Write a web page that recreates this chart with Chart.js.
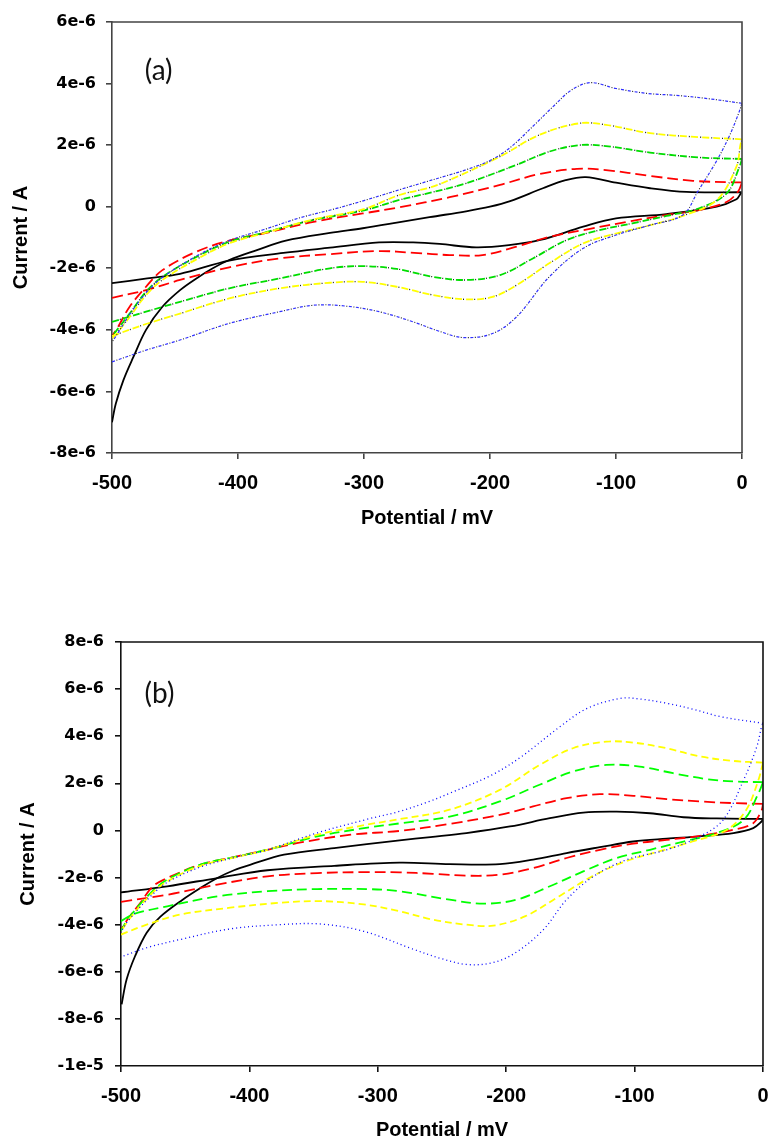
<!DOCTYPE html>
<html><head><meta charset="utf-8">
<script src="https://cdn.jsdelivr.net/npm/chart.js@4.4.1/dist/chart.umd.min.js"></script>
<style>
html,body{margin:0;padding:0;background:#fff;}
#wrap{position:relative;width:768px;height:1142px;overflow:hidden;background:#fff;}
canvas{position:absolute;left:0;}
#ca{top:0;width:768px;height:560px;}
#cb{top:560px;width:768px;height:582px;}
</style></head><body>
<div id="wrap"><canvas id="ca" width="768" height="560"></canvas><canvas id="cb" width="768" height="582"></canvas></div>
<script>
// ---------- axis ticks ----------
const xTickValues = [-500, -400, -300, -200, -100, 0];
const xTickLabels = ['-500', '-400', '-300', '-200', '-100', '0'];
// current axis values in micro-amperes, labels in amperes
const yTickValuesA = [-8, -6, -4, -2, 0, 2, 4, 6];
const yTickLabelsA = ['-8e-6', '-6e-6', '-4e-6', '-2e-6', '0', '2e-6', '4e-6', '6e-6'];
const yTickValuesB = [-10, -8, -6, -4, -2, 0, 2, 4, 6, 8];
const yTickLabelsB = ['-1e-5', '-8e-6', '-6e-6', '-4e-6', '-2e-6', '0', '2e-6', '4e-6', '6e-6', '8e-6'];
const panelLabels = ['(a)', '(b)'];
const panelLabelAnchorA = [-463, 4.4];
const panelLabelAnchorB = [-470, 5.8];

// ---------- panel (a): [potential mV, current µA] ----------
const A_black_lower = [[-500,-2.48],[-472,-2.33],[-446,-2.18],[-407,-1.75],[-364,-1.5],[-327,-1.33],[-288,-1.16],[-261,-1.16],[-240,-1.21],[-211,-1.32],[-185,-1.25],[-160,-1.08],[-126,-0.65],[-100,-0.38],[-60,-0.24],[-20,0.0],[-4.4,0.24],[-1.3,0.41],[0,0.47]];
const A_black_upper = [[0,0.47],[-44,0.48],[-73,0.6],[-100,0.78],[-124,0.96],[-140,0.86],[-158,0.6],[-184,0.18],[-200,0.0],[-219,-0.15],[-248,-0.34],[-274,-0.52],[-301,-0.7],[-327,-0.85],[-362,-1.1],[-385,-1.41],[-407,-1.73],[-420,-2.0],[-433,-2.33],[-446,-2.71],[-460,-3.25],[-473,-4.0],[-483,-4.88],[-491,-5.64],[-497,-6.4],[-500,-7.0]];
const A_red_lower = [[-500,-2.96],[-473,-2.71],[-446,-2.38],[-407,-1.97],[-367,-1.68],[-327,-1.54],[-288,-1.44],[-260,-1.5],[-232,-1.57],[-206,-1.57],[-179,-1.3],[-153,-0.98],[-126,-0.76],[-87,-0.46],[-60,-0.27],[-34,-0.11],[-12,0.16],[-3,0.5],[0,0.79]];
const A_red_upper = [[0,0.79],[-5,0.79],[-39,0.84],[-73,1.0],[-108,1.19],[-131,1.23],[-161,1.06],[-192,0.71],[-232,0.31],[-272,-0.02],[-301,-0.22],[-340,-0.49],[-380,-0.87],[-407,-1.1],[-433,-1.46],[-460,-2.06],[-473,-2.6],[-486,-3.25],[-496,-3.96],[-500,-4.2]];
const A_green_lower = [[-500,-3.74],[-473,-3.41],[-446,-3.09],[-407,-2.65],[-367,-2.33],[-327,-2.0],[-301,-1.93],[-274,-2.02],[-245,-2.28],[-219,-2.38],[-192,-2.22],[-166,-1.68],[-139,-1.08],[-113,-0.76],[-87,-0.54],[-60,-0.3],[-34,-0.05],[-12,0.44],[-2,1.3],[0,1.55]];
const A_green_upper = [[0,1.55],[-34,1.6],[-73,1.76],[-108,1.97],[-129,2.0],[-153,1.79],[-179,1.36],[-219,0.76],[-248,0.45],[-272,0.22],[-301,-0.13],[-340,-0.43],[-380,-0.85],[-407,-1.14],[-433,-1.63],[-460,-2.28],[-473,-2.76],[-486,-3.47],[-496,-4.0],[-500,-4.2]];
const A_yellow_lower = [[-500,-4.2],[-473,-3.81],[-446,-3.47],[-407,-2.98],[-367,-2.65],[-327,-2.47],[-301,-2.44],[-274,-2.6],[-245,-2.87],[-219,-3.01],[-198,-2.93],[-179,-2.55],[-153,-1.84],[-126,-1.19],[-100,-0.87],[-73,-0.6],[-47,-0.3],[-20,0.22],[-4.4,1.3],[-1.3,2.0],[0,2.19]];
const A_yellow_upper = [[0,2.19],[-34,2.26],[-73,2.39],[-108,2.66],[-129,2.71],[-161,2.33],[-192,1.63],[-232,0.87],[-248,0.62],[-272,0.38],[-301,-0.09],[-340,-0.41],[-380,-0.87],[-407,-1.19],[-433,-1.71],[-460,-2.38],[-473,-2.87],[-486,-3.58],[-496,-4.1],[-500,-4.3]];
const A_blue_lower = [[-500,-5.04],[-473,-4.66],[-446,-4.33],[-407,-3.79],[-367,-3.41],[-340,-3.2],[-314,-3.23],[-288,-3.41],[-261,-3.74],[-240,-4.05],[-221,-4.25],[-198,-4.12],[-179,-3.58],[-153,-2.28],[-126,-1.35],[-100,-0.92],[-73,-0.6],[-47,-0.27],[-35,0.5],[-20,1.5],[-10,2.3],[-3,3.0],[0,3.36]];
const A_blue_upper = [[0,3.36],[-25,3.5],[-50,3.61],[-75,3.68],[-100,3.84],[-120,4.03],[-135,3.8],[-150,3.25],[-165,2.65],[-184,1.92],[-200,1.5],[-219,1.2],[-235,1.0],[-250,0.82],[-272,0.55],[-300,0.2],[-325,-0.09],[-350,-0.35],[-380,-0.75],[-407,-1.1],[-433,-1.6],[-460,-2.3],[-473,-2.8],[-486,-3.5],[-496,-4.15],[-500,-4.4]];

// ---------- panel (b): [potential mV, current µA] ----------
const B_black_lower = [[-500,-2.63],[-464,-2.37],[-425,-2.02],[-386,-1.69],[-334,-1.5],[-283,-1.37],[-244,-1.43],[-205,-1.43],[-179,-1.24],[-153,-0.96],[-127,-0.71],[-101,-0.47],[-75,-0.35],[-49,-0.25],[-23,-0.11],[-7.6,0.1],[-1.1,0.38],[0,0.49]];
const B_black_upper = [[0,0.49],[-36,0.51],[-62,0.56],[-88,0.73],[-114,0.8],[-140,0.76],[-166,0.52],[-197,0.17],[-231,-0.11],[-259,-0.28],[-283,-0.42],[-334,-0.75],[-373,-1.03],[-399,-1.45],[-412,-1.69],[-425,-2.02],[-438,-2.44],[-452,-2.94],[-469.5,-3.67],[-480,-4.34],[-489,-5.33],[-495.6,-6.32],[-499.5,-7.38]];
const B_red_lower = [[-500,-3.03],[-464,-2.73],[-425,-2.3],[-386,-1.95],[-347,-1.81],[-308,-1.77],[-283,-1.78],[-257,-1.84],[-231,-1.92],[-205,-1.88],[-179,-1.6],[-153,-1.17],[-127,-0.82],[-101,-0.56],[-75,-0.4],[-49,-0.23],[-23,0.03],[-7.6,0.31],[-1.1,0.85],[0,1.13]];
const B_red_upper = [[0,1.13],[-23,1.16],[-49,1.23],[-75,1.33],[-101,1.47],[-127,1.54],[-153,1.37],[-179,1.02],[-205,0.66],[-244,0.28],[-283,-0.02],[-321,-0.18],[-360,-0.51],[-386,-0.82],[-412,-1.13],[-438,-1.45],[-464,-2.02],[-475,-2.37],[-485,-3.08],[-494,-3.71],[-500,-4.2]];
const B_green_lower = [[-500,-3.85],[-490,-3.55],[-464,-3.22],[-425,-2.8],[-386,-2.58],[-347,-2.49],[-308,-2.49],[-283,-2.58],[-244,-2.94],[-218,-3.11],[-192,-2.94],[-166,-2.37],[-140,-1.74],[-114,-1.17],[-88,-0.82],[-62,-0.47],[-36,-0.11],[-15,0.45],[-3.5,1.58],[0,2.05]];
const B_green_upper = [[0,2.05],[-23,2.08],[-44,2.18],[-70,2.43],[-96,2.71],[-122,2.78],[-148,2.5],[-174,1.94],[-205,1.23],[-244,0.59],[-283,0.3],[-308,0.12],[-347,-0.25],[-386,-0.82],[-412,-1.13],[-438,-1.45],[-464,-2.09],[-477,-2.66],[-494,-3.71],[-500,-4.25]];
const B_yellow_lower = [[-500,-4.42],[-480,-4.0],[-454,-3.57],[-415,-3.28],[-376,-3.07],[-345,-3.0],[-311,-3.14],[-283,-3.43],[-257,-3.79],[-231,-4.0],[-210,-4.04],[-185,-3.64],[-159,-2.8],[-133,-1.95],[-107,-1.31],[-81,-0.89],[-55,-0.47],[-28,0.03],[-13,0.88],[-3.5,2.15],[0,2.88]];
const B_yellow_upper = [[0,2.88],[-23,2.95],[-49,3.14],[-75,3.49],[-101,3.73],[-122,3.77],[-148,3.49],[-174,2.78],[-205,1.72],[-244,0.88],[-283,0.48],[-308,0.25],[-347,-0.18],[-386,-0.82],[-412,-1.15],[-438,-1.5],[-464,-2.16],[-477,-2.73],[-494,-3.79],[-500,-4.3]];
const B_blue_lower = [[-498,-5.33],[-480,-4.98],[-454,-4.63],[-415,-4.18],[-376,-4.0],[-345,-3.97],[-311,-4.28],[-272,-5.05],[-250,-5.45],[-231,-5.69],[-211,-5.62],[-193,-5.2],[-171,-4.21],[-153,-2.94],[-132,-1.95],[-106,-1.24],[-75,-0.82],[-49,-0.25],[-31,0.45],[-15,2.15],[-4.8,3.56],[-1.1,4.41],[0,4.55]];
const B_blue_upper = [[0,4.55],[-33,4.83],[-54,5.14],[-75,5.4],[-96,5.58],[-111,5.61],[-137,5.18],[-158,4.41],[-188,3.14],[-211,2.36],[-244,1.58],[-259,1.25],[-283,0.81],[-308,0.48],[-347,-0.1],[-386,-0.82],[-412,-1.15],[-438,-1.55],[-464,-2.2],[-477,-2.8],[-494,-3.8],[-500,-4.3]];

// ---------- helpers ----------
function line(points, color, width, dash, offset) {
  return {
    data: points.map(p => ({x: p[0], y: p[1]})),
    borderColor: color, borderWidth: width,
    borderDash: dash || [], borderDashOffset: offset || 0,
    pointRadius: 0, pointHoverRadius: 0, showLine: true, fill: false,
    tension: 0.35, borderCapStyle: 'butt', borderJoinStyle: 'round'
  };
}

const framePlugin = {
  id: 'frame',
  afterDatasetsDraw(chart, args, o) {
    const {ctx, chartArea: a} = chart;
    ctx.save();
    ctx.strokeStyle = o.color; ctx.lineWidth = o.width;
    ctx.beginPath();
    ctx.moveTo(a.left, a.top); ctx.lineTo(a.right, a.top); ctx.lineTo(a.right, a.bottom);
    ctx.stroke();
    const x = chart.scales.x.getPixelForValue(o.at[0]);
    const y = chart.scales.y.getPixelForValue(o.at[1]);
    ctx.font = '28px Lato';
    ctx.fillStyle = '#111';
    ctx.textAlign = 'center'; ctx.textBaseline = 'middle';
    ctx.fillText(o.text, x, y);
    ctx.restore();
  }
};

function makeChart(id, datasets, cfg) {
  const tickFontY = {family: 'DejaVu Sans', weight: 'bold', size: 16};
  const tickFontX = {family: 'Liberation Sans', weight: 'bold', size: 20};
  const titleFont = {family: 'Liberation Sans', weight: 'bold', size: 20};
  return new Chart(document.getElementById(id), {
    type: 'scatter',
    data: {datasets},
    plugins: [framePlugin],
    options: {
      responsive: false, animation: false, devicePixelRatio: 1,
      layout: {padding: cfg.padding},
      plugins: {legend: {display: false}, tooltip: {enabled: false},
        frame: {color: cfg.frameColor, width: 1.6, text: cfg.label, at: cfg.labelAt}},
      scales: {
        x: {
          type: 'linear', min: -500, max: 0,
          afterBuildTicks: s => { s.ticks = xTickValues.map(v => ({value: v})); },
          afterFit: s => { s.height = cfg.xAxisHeight; s.paddingLeft = 0; s.paddingRight = 0; },
          grid: {drawOnChartArea: false, drawTicks: true, tickLength: 6, color: cfg.frameColor, lineWidth: 1.6},
          border: {display: true, color: cfg.frameColor, width: 1.6},
          ticks: {padding: 12, color: '#000', font: tickFontX, maxRotation: 0, autoSkip: false,
            callback: (v, i) => xTickLabels[i]},
          title: {display: true, text: 'Potential / mV', color: '#000', font: titleFont, padding: {top: 0, bottom: 0}}
        },
        y: {
          type: 'linear', min: cfg.yTicks[0], max: cfg.yTicks[cfg.yTicks.length - 1],
          afterBuildTicks: s => { s.ticks = cfg.yTicks.map(v => ({value: v})); },
          afterFit: s => { s.width = cfg.yAxisWidth; s.paddingTop = 0; s.paddingBottom = 0; },
          grid: {drawOnChartArea: false, drawTicks: true, tickLength: 6, color: cfg.frameColor, lineWidth: 1.6},
          border: {display: true, color: cfg.frameColor, width: 1.6},
          ticks: {padding: cfg.yTickPad, color: '#000', font: tickFontY, autoSkip: false,
            callback: (v, i) => cfg.yLabels[i]},
          title: {display: true, text: 'Current / A', color: '#000', font: titleFont, padding: {top: cfg.yTitlePad, bottom: 0}}
        }
      }
    }
  });
}

// ---------- panel (a) ----------
const dsA = [
  line(A_blue_lower, '#3030ff', 1.2, [3, 4]), line(A_blue_upper, '#3030ff', 1.2, [3, 4]),
  line(A_blue_lower, '#222', 1.1, [1, 6], 2.5), line(A_blue_upper, '#222', 1.1, [1, 6], 2.5),
  line(A_yellow_lower, '#ffff00', 1.8, [7, 4]), line(A_yellow_upper, '#ffff00', 1.8, [7, 4]),
  line(A_yellow_lower, '#222', 1.3, [1, 10], 3), line(A_yellow_upper, '#222', 1.3, [1, 10], 3),
  line(A_green_lower, '#00dd00', 1.8, [7, 4]), line(A_green_upper, '#00dd00', 1.8, [7, 4]),
  line(A_green_lower, '#222', 1.3, [1, 10], 3), line(A_green_upper, '#222', 1.3, [1, 10], 3),
  line(A_red_lower, '#ff0000', 1.8, [11, 5]), line(A_red_upper, '#ff0000', 1.8, [11, 5]),
  line(A_black_lower, '#000', 1.8), line(A_black_upper, '#000', 1.8)
];
makeChart('ca', dsA, {
  padding: {top: 22, right: 26, bottom: 30, left: 0},
  xAxisHeight: 77, yAxisWidth: 112, yTickPad: 10, yTitlePad: 9,
  yTicks: yTickValuesA, yLabels: yTickLabelsA, frameColor: '#444',
  label: panelLabels[0], labelAt: panelLabelAnchorA
});

// ---------- panel (b) ----------
const dsB = [
  line(B_blue_lower, '#0000ff', 1.3, [1, 3]), line(B_blue_upper, '#0000ff', 1.3, [1, 3]),
  line(B_yellow_lower, '#ffff00', 1.8, [7, 4]), line(B_yellow_upper, '#ffff00', 1.8, [7, 4]),
  line(B_green_lower, '#00ff00', 1.8, [10, 5]), line(B_green_upper, '#00ff00', 1.8, [10, 5]),
  line(B_red_lower, '#ff0000', 1.8, [11, 5]), line(B_red_upper, '#ff0000', 1.8, [11, 5]),
  line(B_black_lower, '#000', 1.8), line(B_black_upper, '#000', 1.8)
];
makeChart('cb', dsB, {
  padding: {top: 82, right: 5, bottom: 0, left: 0},
  xAxisHeight: 76, yAxisWidth: 121, yTickPad: 11, yTitlePad: 16,
  yTicks: yTickValuesB, yLabels: yTickLabelsB, frameColor: '#111',
  label: panelLabels[1], labelAt: panelLabelAnchorB
});
</script></body></html>
